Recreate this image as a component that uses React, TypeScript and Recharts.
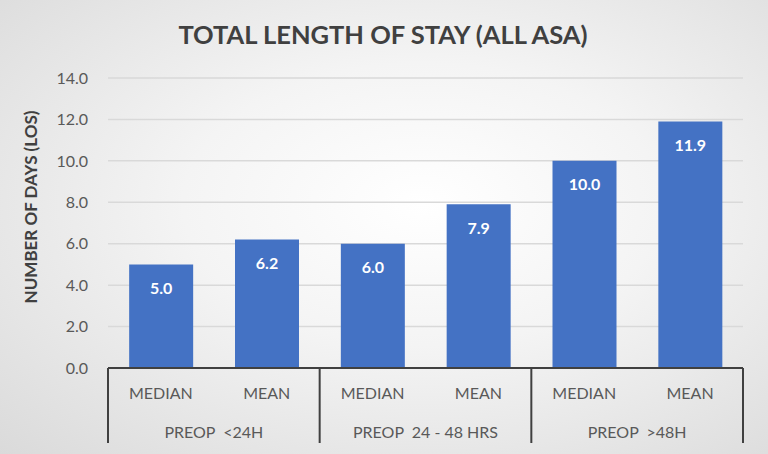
import React from 'react';
import { BarChart, Bar, XAxis, YAxis, CartesianGrid, LabelList } from 'recharts';

const stats = ['MEDIAN', 'MEAN', 'MEDIAN', 'MEAN', 'MEDIAN', 'MEAN'];
const groups = ['PREOP  <24H', 'PREOP  <24H', 'PREOP  24 - 48 HRS', 'PREOP  24 - 48 HRS', 'PREOP  >48H', 'PREOP  >48H'];
const days = [5.0, 6.2, 6.0, 7.9, 10.0, 11.9];
const yTicks = [0, 2, 4, 6, 8, 10, 12, 14];

const data = stats.map((s, i) => ({ key: i, stat: s, group: groups[i], days: days[i] }));

const W = 768;
const H = 454;
const margin = { top: 78, right: 25, bottom: 11, left: 48 };
const yAxisWidth = 60;
const xAxisH = 75;
const plotLeft = margin.left + yAxisWidth;
const plotRight = W - margin.right;
const axisY = H - margin.bottom - xAxisH;
const band = (plotRight - plotLeft) / stats.length;
const font = 'Lato, "Open Sans", sans-serif';

// bottom axis: stat name under each bar, group name centred under each pair, dividers between groups
const TwoLevelTick = (props: any) => {
  const { x, payload } = props;
  const i = payload.value as number;
  const isFirst = i % 2 === 0;
  const left = x - band / 2;
  const right = x + band / 2;
  return (
    <g>
      <text x={x} y={axisY + 31} textAnchor="middle" fill="#595959" fontSize={16} fontFamily={font}>
        {stats[i]}
      </text>
      {isFirst && (
        <line x1={left} x2={left} y1={axisY} y2={H - 11} stroke="#404040" strokeWidth={2} />
      )}
      {!isFirst && (
        <text x={left} y={axisY + 70} textAnchor="middle" fill="#595959" fontSize={16} fontFamily={font} style={{ whiteSpace: 'pre' }}>
          {groups[i]}
        </text>
      )}
      {i === stats.length - 1 && (
        <line x1={right} x2={right} y1={axisY} y2={H - 11} stroke="#404040" strokeWidth={2} />
      )}
    </g>
  );
};

const YLabel = () => (
  <text
    x={30}
    y={207}
    transform="rotate(-90 30 207)"
    textAnchor="middle"
    dominantBaseline="central"
    fill="#404040"
    fontSize={17}
    fontWeight={700}
    fontFamily={font}
  >
    NUMBER OF DAYS (LOS)
  </text>
);

export default function App() {
  return (
    <div
      style={{
        position: 'absolute',
        left: 0,
        top: 0,
        width: W,
        height: H,
        background: 'radial-gradient(ellipse at 55% 45%, #ffffff 0%, #f4f4f4 40%, #dadada 100%)',
      }}
    >
      <BarChart width={W} height={H} data={data} margin={margin} barCategoryGap="20%">
        <text x={383} y={44} textAnchor="middle" fill="#404040" fontSize={25.5} fontWeight={700} fontFamily={font}>
          TOTAL LENGTH OF STAY (ALL ASA)
        </text>
        <YLabel />
        <CartesianGrid vertical={false} stroke="#d9d9d9" strokeWidth={1.5} />
        <XAxis
          dataKey="key"
          height={xAxisH}
          tick={<TwoLevelTick />}
          tickLine={false}
          axisLine={{ stroke: '#404040', strokeWidth: 2 }}
          interval={0}
        />
        <YAxis
          width={yAxisWidth}
          domain={[0, 14]}
          ticks={yTicks}
          tickFormatter={(v: number) => v.toFixed(1)}
          tick={{ fill: '#595959', fontSize: 16, fontFamily: font }}
          tickLine={false}
          axisLine={false}
          tickMargin={14}
        />
        <Bar dataKey="days" fill="#4472C4" isAnimationActive={false}>
          <LabelList
            dataKey="days"
            position="insideTop"
            offset={18}
            formatter={(v: any) => Number(v).toFixed(1)}
            fill="#ffffff"
            fontSize={16}
            fontWeight={700}
            fontFamily={font}
          />
        </Bar>
      </BarChart>
    </div>
  );
}
